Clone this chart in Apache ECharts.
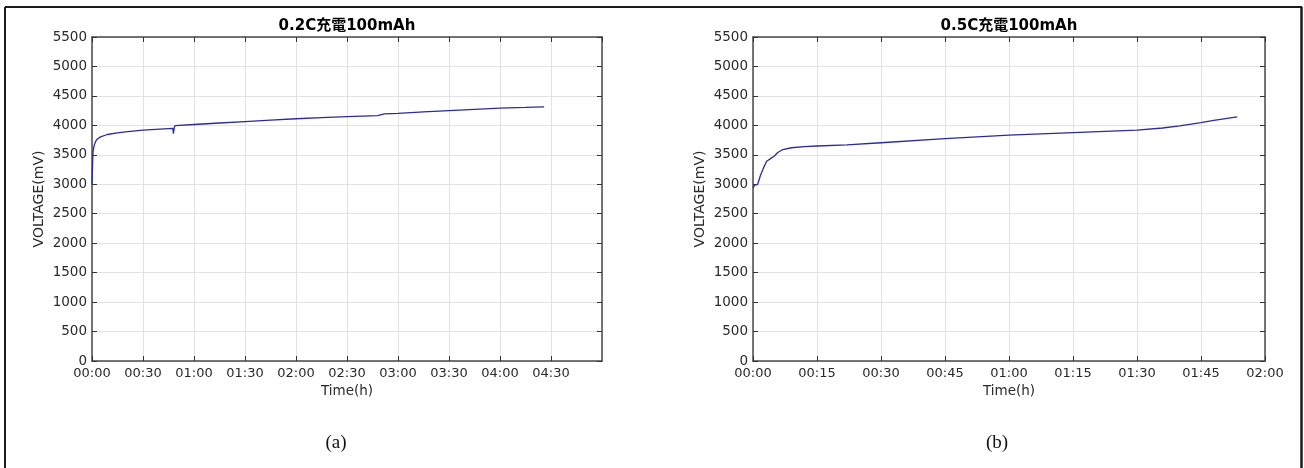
<!DOCTYPE html>
<html>
<head>
<meta charset="utf-8">
<script src="https://cdn.jsdelivr.net/npm/echarts@6/dist/echarts.min.js"></script>
<style>
html,body{margin:0;padding:0;background:#fff;}
#chart{width:1304px;height:468px;}
</style>
</head>
<body>
<div id="chart"></div>
<script>
// ---- data ----
const titles = ['0.2C充電100mAh', '0.5C充電100mAh'];
const captions = ['(a)', '(b)'];
const yAxisName = 'VOLTAGE(mV)';
const xAxisName = 'Time(h)';
const yTicks = [0, 500, 1000, 1500, 2000, 2500, 3000, 3500, 4000, 4500, 5000, 5500];
// time in minutes
const leftTime = [0, 0.3, 0.6, 1.2, 2, 3, 5, 9, 15, 21, 30, 40, 47.5, 47.9, 48.1, 48.4, 48.8, 49.2, 60, 75, 90, 105, 120, 135, 150, 168, 172, 180, 195, 210, 225, 240, 255, 266];
const leftVolt = [3000, 3300, 3550, 3650, 3720, 3765, 3805, 3845, 3872, 3893, 3918, 3935, 3948, 3860, 3900, 3960, 3995, 4000, 4015, 4040, 4065, 4090, 4112, 4132, 4150, 4165, 4195, 4205, 4228, 4250, 4272, 4293, 4305, 4315];
const rightTime = [0, 0.4, 1.1, 1.7, 2.6, 3.2, 4.2, 5, 5.8, 7, 9, 12, 15, 22, 30, 45, 60, 75, 90, 96, 100, 105, 108, 113.5];
const rightVolt = [2940, 2985, 3000, 3140, 3300, 3390, 3440, 3480, 3540, 3590, 3620, 3640, 3650, 3670, 3705, 3775, 3835, 3878, 3920, 3955, 3990, 4045, 4085, 4145];
const xRanges = [{max: 300, interval: 30, showMax: false}, {max: 120, interval: 15, showMax: true}];

const chart = echarts.init(document.getElementById('chart'));
const FONT = "'DejaVu Sans', 'Noto Sans CJK TC', sans-serif";
const grids = [
  {left: 92, top: 37, width: 510, height: 324},
  {left: 753, top: 37, width: 512, height: 324}
];
const fmt = v => {
  const h = Math.floor(v / 60), m = Math.round(v % 60);
  return String(h).padStart(2, '0') + ':' + String(m).padStart(2, '0');
};
const xAxes = [], yAxes = [], series = [];
const axisLineStyle = {color: '#4a4a4a', width: 1.5};
const labelColor = '#2a2a2a';
[0, 1].forEach(i => {
  const r = xRanges[i];
  xAxes.push({
    type: 'value', gridIndex: i, min: 0, max: r.max, interval: r.interval,
    name: xAxisName, nameLocation: 'middle', nameGap: 21,
    nameTextStyle: {fontFamily: FONT, fontSize: 13.5, color: labelColor},
    axisLine: {show: true, onZero: false, lineStyle: axisLineStyle},
    axisTick: {show: true, inside: true, length: 5, lineStyle: {color: '#333'}},
    axisLabel: {formatter: fmt, showMaxLabel: r.showMax, margin: 6, fontFamily: FONT, fontSize: 13, color: labelColor},
    splitLine: {show: true, lineStyle: {color: '#e2e2e2', width: 1}}
  });
  xAxes.push({
    type: 'value', gridIndex: i, position: 'top', min: 0, max: r.max, interval: r.interval,
    axisLine: {show: true, onZero: false, lineStyle: axisLineStyle},
    axisTick: {show: true, inside: true, length: 5, lineStyle: {color: '#333'}},
    axisLabel: {show: false}, splitLine: {show: false}
  });
  yAxes.push({
    type: 'value', gridIndex: i, min: yTicks[0], max: yTicks[yTicks.length - 1], interval: yTicks[1] - yTicks[0],
    name: yAxisName, nameLocation: 'middle', nameGap: 46,
    nameTextStyle: {fontFamily: FONT, fontSize: 14, color: labelColor},
    axisLine: {show: true, onZero: false, lineStyle: axisLineStyle},
    axisTick: {show: true, inside: true, length: 5, lineStyle: {color: '#333'}},
    axisLabel: {formatter: v => String(v), margin: 5, fontFamily: FONT, fontSize: 13.5, color: labelColor},
    splitLine: {show: true, lineStyle: {color: '#e2e2e2', width: 1}}
  });
  yAxes.push({
    type: 'value', gridIndex: i, position: 'right', min: yTicks[0], max: yTicks[yTicks.length - 1], interval: yTicks[1] - yTicks[0],
    axisLine: {show: true, onZero: false, lineStyle: axisLineStyle},
    axisTick: {show: true, inside: true, length: 5, lineStyle: {color: '#333'}},
    axisLabel: {show: false}, splitLine: {show: false}
  });
  const t = i === 0 ? leftTime : rightTime;
  const v = i === 0 ? leftVolt : rightVolt;
  series.push({
    type: 'line', xAxisIndex: i * 2, yAxisIndex: i * 2,
    data: t.map((x, k) => [x, v[k]]),
    showSymbol: false, symbol: 'none', smooth: false,
    lineStyle: {color: '#2c2c98', width: 1.3}
  });
});

const centers = [347, 1009];
const capX = [336, 997];
const graphics = [];
[0, 1].forEach(i => {
  graphics.push({type: 'text', x: centers[i], y: 26, style: {text: titles[i], fontFamily: FONT, fontSize: 15, fontWeight: 'bold', fill: '#000', textAlign: 'center', textVerticalAlign: 'middle'}});
  graphics.push({type: 'text', x: capX[i], y: 443, style: {text: captions[i], fontFamily: "'Liberation Serif', 'DejaVu Serif', serif", fontSize: 19, fill: '#111', textAlign: 'center', textVerticalAlign: 'middle'}});
});
// outer frame
graphics.push({type: 'line', shape: {x1: 5, y1: 7, x2: 1302, y2: 7}, style: {stroke: '#1a1a1a', lineWidth: 2}});
graphics.push({type: 'line', shape: {x1: 5, y1: 7, x2: 5, y2: 468}, style: {stroke: '#1a1a1a', lineWidth: 2}});
graphics.push({type: 'line', shape: {x1: 1301.5, y1: 7, x2: 1301.5, y2: 468}, style: {stroke: '#1a1a1a', lineWidth: 2.5}});

chart.setOption({
  animation: false,
  backgroundColor: '#ffffff',
  grid: grids,
  xAxis: xAxes,
  yAxis: yAxes,
  series: series,
  graphic: graphics
});
</script>
</body>
</html>
